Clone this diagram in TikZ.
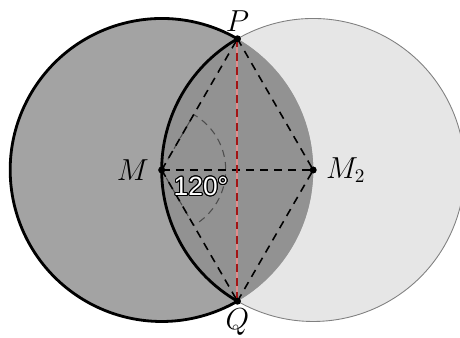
\documentclass[tikz,border=0pt]{standalone}
\usepackage{amsmath}
\usepackage{fontspec}
\usepackage{contour}
\usepackage{tikz}
\usetikzlibrary{calc, positioning}
\newfontfamily\labelfont{Liberation Sans}
\contourlength{0.6pt}
\definecolor{lunegray}{HTML}{A3A3A3}
\definecolor{lensgray}{HTML}{929292}
\definecolor{rightgray}{HTML}{E6E6E6}
\definecolor{chordred}{HTML}{A31515}
\definecolor{chordpink}{HTML}{E28C8C}
\tikzstyle{rim} = [line width=1.6pt, black]
\tikzstyle{helper} = [line width=0.9pt, dash pattern=on 4.5pt off 3.5pt]
\tikzstyle{anglemark} = [line width=0.6pt, gray!60!black, dash pattern=on 4pt off 3pt]
\tikzstyle{dot} = [circle, fill=black, inner sep=0pt, minimum size=4pt]
\tikzstyle{ptlabel} = [inner sep=1pt, font=\fontsize{16}{18}\selectfont]

\begin{document}
\begin{tikzpicture}
	\useasboundingbox (0,0) rectangle (9.2,6.76);
	
	\coordinate (M) at (3.234,3.36);
	\coordinate (M2) at (6.264,3.36);
	\coordinate (P) at (4.749,5.984);
	\coordinate (Q) at (4.749,0.736);
	
	% circles and lens
	\fill[rightgray] (M2) circle (3.03);
	\draw[gray, line width=0.5pt] (P) arc (120:-120:3.03);
	\fill[lunegray] (M) circle (3.03);
	\begin{scope}
		\clip (M) circle (3.03);
		\fill[lensgray] (M2) circle (3.03);
	\end{scope}
	\draw[rim] (P) arc (60:300:3.03);
	\draw[rim] (P) arc (120:240:3.03);
	
	% angle at M
	\draw[anglemark] (M) -- ($(M)+(60:1.28)$) arc (60:-60:1.28) -- cycle;
	
	% dashed lines
	\draw[helper] (M) -- (P);
	\draw[helper] (M) -- (Q);
	\draw[helper] (M) -- (M2);
	\draw[helper] (P) -- (M2);
	\draw[helper] (Q) -- (M2);
	\draw[chordpink, line width=1.1pt] (P) -- (Q);
	\draw[helper, chordred, line width=1.1pt] (P) -- (Q);
	
	\node[dot] (m) at (M) {};
	\node[dot] (m2) at (M2) {};
	\node[dot] (p) at (P) {};
	\node[dot] (q) at (Q) {};
	
	\node[ptlabel, left=4pt of m] {$M$};
	\node[ptlabel, right=4pt of m2] {$M_2$};
	\node[ptlabel, above=1pt of p] {$P$};
	\node[ptlabel, below=1pt of q] {$Q$};
	\node[font=\labelfont\fontsize{15}{17}\selectfont] (angle) at (4.02,3.02) {\contour{black}{\textcolor{white}{120°}}};
	
\end{tikzpicture}
\end{document}
